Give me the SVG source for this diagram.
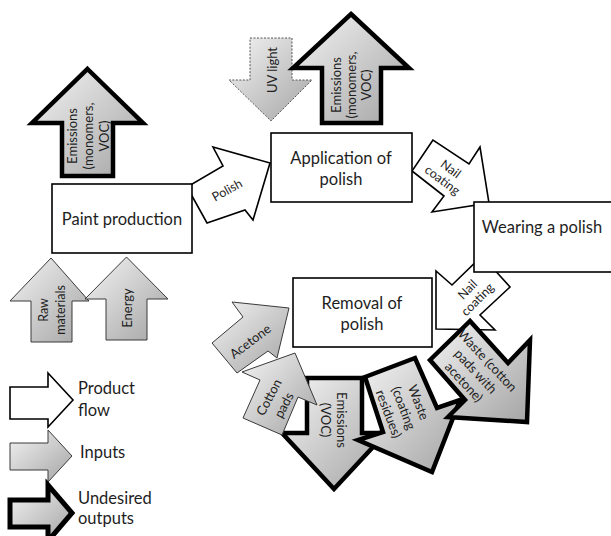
<svg xmlns="http://www.w3.org/2000/svg" width="611" height="536" viewBox="0 0 611 536">
<defs>
<linearGradient id="g" x1="0" y1="0" x2="1" y2="1">
<stop offset="0" stop-color="#f4f4f4"/>
<stop offset="1" stop-color="#a4a4a4"/>
</linearGradient>
<style>
text{font-family:Lato,"Liberation Sans",sans-serif;fill:#1e1e1e;text-anchor:middle;dominant-baseline:central}
.box{fill:#fff;stroke:#000;stroke-width:1.6}
.flow{fill:#fff;stroke:#000;stroke-width:1.6;stroke-linejoin:miter}
.inp{fill:url(#g);stroke:#3a3a3a;stroke-width:1}
.uv{fill:url(#g);stroke:#555;stroke-width:1;stroke-dasharray:2 1.5}
.out{fill:url(#g);stroke:#000;stroke-width:4.5;stroke-linejoin:miter}
.legout{fill:url(#g);stroke:#000;stroke-width:5;stroke-linejoin:miter}
.big{font-size:16.5px}
.sm{font-size:13px}
.xs{font-size:12.5px}
</style>
</defs>
<rect width="611" height="536" fill="#fff"/>

<g id="connectors">
<g id="flow-polish">
<polygon class="flow" points="270,163 213,147 223,166 187,187 207,223 245,210 253,220"/>
<text class="xs" transform="translate(227,190) rotate(-29)">Polish</text>
</g>
<g id="flow-nail1">
<polygon class="flow" points="433,140 412,171 444,196 432,212 489,203 480,147 469,164"/>
<text class="xs" transform="translate(447,174) rotate(37)"><tspan x="0" y="-7">Nail</tspan><tspan x="0" y="7">coating</tspan></text>
</g>
<g id="flow-nail2">
<polygon class="flow" points="482,256 510,287 480,315 495,330 436,329 436,271 452,285"/>
<text class="xs" transform="translate(472,294) rotate(-45)"><tspan x="0" y="-7">Nail</tspan><tspan x="0" y="7">coating</tspan></text>
</g>
</g>

<g id="paint-production">
<rect class="box" x="52" y="184" width="140" height="69"/>
<text class="big" x="122" y="219">Paint production</text>
</g>
<g id="application">
<rect class="box" x="271" y="133" width="141" height="69"/>
<text class="big" x="341" y="158">Application of</text>
<text class="big" x="341" y="179">polish</text>
</g>
<g id="wearing">
<rect class="box" x="474" y="202" width="150" height="70"/>
<text class="big" x="542" y="227">Wearing a polish</text>
</g>
<g id="removal">
<rect class="box" x="293" y="278" width="139" height="69"/>
<text class="big" x="362" y="303">Removal of</text>
<text class="big" x="362" y="324">polish</text>
</g>

<g id="emissions-paint">
<polygon class="out" points="87.5,69 143,123 113,123 113,176 62,176 62,123 32,123"/>
<text class="sm" transform="translate(88,136) rotate(-90)"><tspan x="0" y="-16">Emissions</tspan><tspan x="0" y="0">(monomers,</tspan><tspan x="0" y="16">VOC)</tspan></text>
</g>
<g id="raw-materials">
<polygon class="inp" points="51,258 89,301 72,301 72,342 31,342 31,301 10,301"/>
<text class="xs" transform="translate(52,310) rotate(-90)"><tspan x="0" y="-9">Raw</tspan><tspan x="0" y="8">materials</tspan></text>
</g>
<g id="energy">
<polygon class="inp" points="126.5,257 168,299 147,299 147,340 106,340 106,299 85,299"/>
<text class="sm" transform="translate(127,308) rotate(-90)">Energy</text>
</g>
<g id="uv-light">
<polygon class="uv" points="250,38 292,38 292,80 312,80 271,121 229,80 250,80"/>
<text class="sm" transform="translate(272,70) rotate(-90)">UV light</text>
</g>
<g id="emissions-application">
<polygon class="out" points="351,14 409,68 381,68 381,123 322,123 322,68 293,68"/>
<text class="sm" transform="translate(351,85) rotate(-90)"><tspan x="0" y="-15">Emissions</tspan><tspan x="0" y="0">(monomers,</tspan><tspan x="0" y="15">VOC)</tspan></text>
</g>

<g id="acetone">
<polygon class="inp" points="289,308 232,302 243,317 212,343 237,373 268,351 277,358"/>
<text class="sm" transform="translate(250,341) rotate(-37)">Acetone</text>
</g>
<g id="emissions-removal">
<polygon class="out" points="307,378 362,378 362,433 386,433 334,489 282,433 307,433"/>
<text class="sm" transform="translate(334,420) rotate(90)"><tspan x="0" y="-8">Emissions</tspan><tspan x="0" y="8">(VOC)</tspan></text>
</g>
<g id="cotton-pads">
<polygon class="inp" points="295,353 317,405 298,397 282,435 243,418 260,380 242,372"/>
<text class="sm" transform="translate(276,401) rotate(-62)"><tspan x="0" y="-8.5">Cotton</tspan><tspan x="0" y="8.5">pads</tspan></text>
</g>
<g id="waste-coating">
<polygon class="out" points="365,377 415,358 437,408 460,400 432,472 358,440 383,432"/>
<text class="sm" transform="translate(404,408) rotate(69)"><tspan x="0" y="-16">Waste</tspan><tspan x="0" y="0">(coating</tspan><tspan x="0" y="16">residues)</tspan></text>
</g>
<g id="waste-cotton">
<polygon class="out" points="470,321 430,360 465,400 448,417 527,422 530,340 508,363"/>
<text class="sm" transform="translate(476,371) rotate(47)"><tspan x="0" y="-16">Waste (cotton</tspan><tspan x="0" y="0">pads with</tspan><tspan x="0" y="16">acetone)</tspan></text>
</g>

<g id="legend">
<g id="legend-product">
<polygon class="flow" points="10,387 48,387 48,373 73,400 48,427 48,419 10,419"/>
<text class="big" x="78" y="388" style="text-anchor:start">Product</text>
<text class="big" x="78" y="410" style="text-anchor:start">flow</text>
</g>
<g id="legend-inputs">
<polygon class="inp" points="10,443 48,443 48,430 72,456 48,482 48,470 10,470"/>
<text class="big" x="80" y="452" style="text-anchor:start">Inputs</text>
</g>
<g id="legend-outputs">
<polygon class="legout" points="10,500 48,500 48,485 72,513 48,541 48,527 10,527"/>
<text class="big" x="78" y="498" style="text-anchor:start">Undesired</text>
<text class="big" x="78" y="518" style="text-anchor:start">outputs</text>
</g>
</g>
</svg>
